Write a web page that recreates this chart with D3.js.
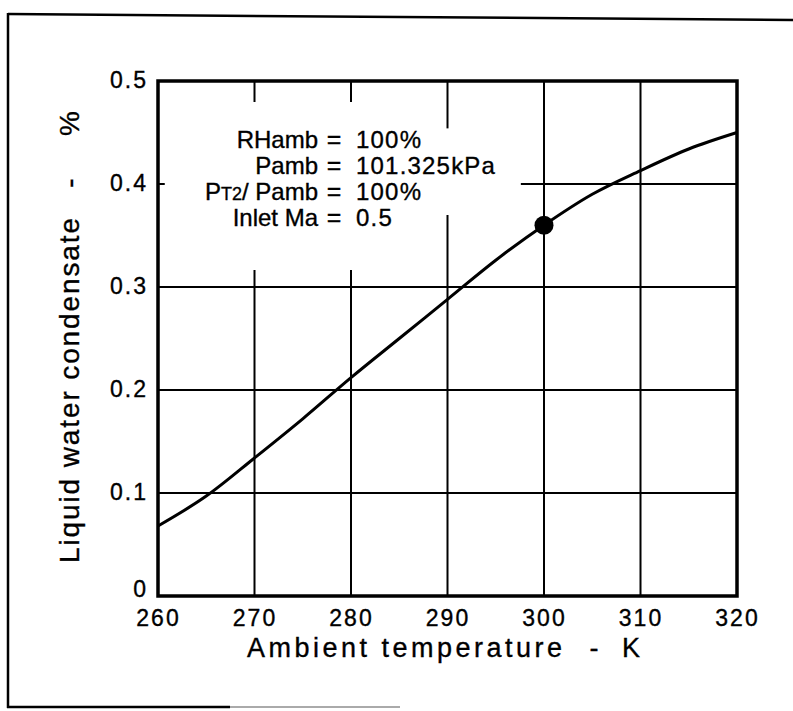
<!DOCTYPE html>
<html>
<head>
<meta charset="utf-8">
<script src="https://cdn.jsdelivr.net/npm/d3@7"></script>
<style>
  html, body { margin: 0; padding: 0; background: #fff; }
  svg { display: block; }
  text { font-family: "Liberation Sans", Arial, Helvetica, sans-serif; fill: #000; stroke: #000; stroke-width: 0.35px; }
</style>
</head>
<body>
<svg id="chart" width="793" height="711"></svg>
<script>
// ---- data ----
const temperatureK = [260, 265, 270, 275, 280, 285, 290, 295, 300, 305, 310, 315, 320];
const condensatePct = [0.068, 0.097, 0.134, 0.172, 0.212, 0.250, 0.288, 0.326, 0.360, 0.390, 0.413, 0.434, 0.450];
const designPoint = { t: 300, v: 0.360 };
const xTicks = [260, 270, 280, 290, 300, 310, 320];
const yTicks = [0, 0.1, 0.2, 0.3, 0.4, 0.5];
const xTitleParts = ["Ambient temperature", "-", "K"];
const yTitleParts = ["Liquid water condensate", "-", "%"];
const notes = [
  { left: "RHamb", right: "100%" },
  { left: "Pamb", right: "101.325kPa" },
  { left: "P", sub: "T2", tail: "/ Pamb", right: "100%" },
  { left: "Inlet Ma", right: "0.5" }
];

// ---- layout ----
const svg = d3.select("#chart");
const L = 158, R = 737, T = 81, B = 596;
const x = d3.scaleLinear().domain([260, 320]).range([L, R]);
const y = d3.scaleLinear().domain([0, 0.5]).range([B, T]);

// outer frame (scan border)
svg.append("line").attr("x1", 8).attr("y1", 14).attr("x2", 793).attr("y2", 20)
  .attr("stroke", "#000").attr("stroke-width", 2.5);
svg.append("line").attr("x1", 8).attr("y1", 13).attr("x2", 8).attr("y2", 708)
  .attr("stroke", "#000").attr("stroke-width", 2.5);
svg.append("line").attr("x1", 7).attr("y1", 707).attr("x2", 230).attr("y2", 707)
  .attr("stroke", "#000").attr("stroke-width", 2.5);
svg.append("line").attr("x1", 230).attr("y1", 707).attr("x2", 400).attr("y2", 707)
  .attr("stroke", "#aaa").attr("stroke-width", 2);

const g = svg.append("g");
const gridW = 2;

// vertical grid lines (with gaps around annotation)
const vGaps = { 270: [0.3165, 0.4796], 280: [0.3165, 0.4796], 290: [0.370, 0.454] };
xTicks.slice(1, -1).forEach(t => {
  const segs = vGaps[t] ? [[0, vGaps[t][0]], [vGaps[t][1], 0.5]] : [[0, 0.5]];
  segs.forEach(s => {
    g.append("line").attr("x1", x(t)).attr("x2", x(t))
      .attr("y1", y(s[0])).attr("y2", y(s[1]))
      .attr("stroke", "#000").attr("stroke-width", gridW);
  });
});
// horizontal grid lines
const hGaps = { 0.4: [260.7, 297.6] };
yTicks.slice(1, -1).forEach(v => {
  const segs = hGaps[v] ? [[260, hGaps[v][0]], [hGaps[v][1], 320]] : [[260, 320]];
  segs.forEach(s => {
    g.append("line").attr("y1", y(v)).attr("y2", y(v))
      .attr("x1", x(s[0])).attr("x2", x(s[1]))
      .attr("stroke", "#000").attr("stroke-width", gridW);
  });
});

// plot frame
g.append("rect").attr("x", L).attr("y", T).attr("width", R - L).attr("height", B - T)
  .attr("fill", "none").attr("stroke", "#000").attr("stroke-width", 3.5);

// axes tick labels via d3 axes
const xAxis = d3.axisBottom(x).tickValues(xTicks).tickSize(0).tickPadding(14).tickFormat(d3.format("d"));
const xa = svg.append("g").attr("transform", `translate(0,${B})`).call(xAxis);
xa.select(".domain").remove();
xa.selectAll("text").attr("font-size", 23).attr("letter-spacing", "2px")
  .attr("dy", "0.71em").attr("font-family", "Liberation Sans, Arial, sans-serif").attr("fill", "#000");

const yAxis = d3.axisLeft(y).tickValues(yTicks).tickSize(0).tickPadding(10)
  .tickFormat(d => d === 0 ? "0" : d3.format(".1f")(d));
const ya = svg.append("g").attr("transform", `translate(${L},0)`).call(yAxis);
ya.select(".domain").remove();
ya.selectAll("text").attr("font-size", 23).attr("letter-spacing", "2px")
  .attr("font-family", "Liberation Sans, Arial, sans-serif").attr("fill", "#000")
  .attr("dy", d => d === 0 ? "0em" : "0.30em");

// curve
const line = d3.line().x((d, i) => x(temperatureK[i])).y(d => y(d)).curve(d3.curveMonotoneX);
g.append("path").attr("d", line(condensatePct))
  .attr("fill", "none").attr("stroke", "#000").attr("stroke-width", 3);

// design point
g.append("circle").attr("cx", x(designPoint.t)).attr("cy", y(designPoint.v)).attr("r", 9.5)
  .attr("fill", "#000");

// annotation block aligned on "="
const eqX = 334, baseY0 = 148, lineH = 26;
const ann = svg.append("g").attr("font-size", 24);
notes.forEach((n, i) => {
  const by = baseY0 + i * lineH;
  const lt = ann.append("text").attr("x", eqX - 16).attr("y", by).attr("text-anchor", "end");
  if (n.sub) {
    lt.append("tspan").text(n.left);
    lt.append("tspan").attr("font-size", 18).text(n.sub);
    lt.append("tspan").text(n.tail);
  } else {
    lt.text(n.left);
  }
  ann.append("text").attr("x", eqX).attr("y", by).attr("text-anchor", "middle")
    .attr("font-size", 25).text("=");
  ann.append("text").attr("x", eqX + 22).attr("y", by).attr("letter-spacing", "1.2px").text(n.right);
});

// axis titles
const xt = svg.append("g").attr("font-size", 27);
xt.append("text").attr("x", 247).attr("y", 657).attr("textLength", 315).attr("lengthAdjust", "spacing").text(xTitleParts[0]);
xt.append("text").attr("x", 594).attr("y", 657).attr("text-anchor", "middle").text(xTitleParts[1]);
xt.append("text").attr("x", 622).attr("y", 657).text(xTitleParts[2]);

const yt = svg.append("g").attr("font-size", 28);
yt.append("text").attr("transform", "translate(79,563) rotate(-90)")
  .attr("textLength", 345).attr("lengthAdjust", "spacing").text(yTitleParts[0]);
yt.append("text").attr("transform", "translate(79,183) rotate(-90)").attr("text-anchor", "middle").text(yTitleParts[1]);
yt.append("text").attr("transform", "translate(79,136) rotate(-90)").text(yTitleParts[2]);
</script>
</body>
</html>
